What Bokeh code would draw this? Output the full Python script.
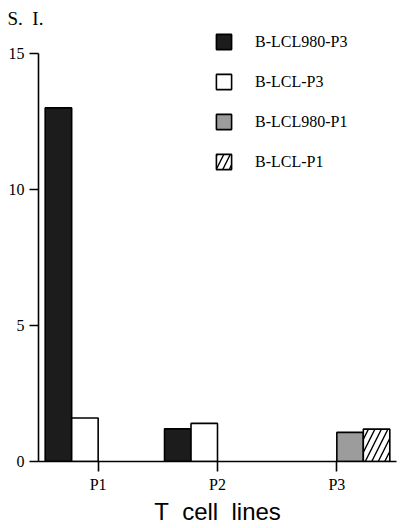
from bokeh.plotting import figure
from bokeh.models import FixedTicker, Legend, LegendItem, Range1d, ColumnDataSource
from bokeh.embed import file_html
from bokeh.resources import INLINE

# ---- data ----
categories = ["P1", "P2", "P3"]
series_names = ["B-LCL980-P3", "B-LCL-P3", "B-LCL980-P1", "B-LCL-P1"]
vals_980_p3 = [13.0, 1.2, None]
vals_lcl_p3 = [1.6, 1.4, None]
vals_980_p1 = [None, None, 1.07]
vals_lcl_p1 = [None, None, 1.19]
y_ticks = [0, 5, 10, 15]
y_label = "S.\u00a0\u00a0I."
x_label = "T\u00a0\u00a0cell\u00a0\u00a0lines"

series_values = [vals_980_p3, vals_lcl_p3, vals_980_p1, vals_lcl_p1]

# ---- styles ----
styles = [
    dict(fill_color="#1c1c1c", hatch_pattern=None),
    dict(fill_color="white", hatch_pattern=None),
    dict(fill_color="#9c9c9c", hatch_pattern=None),
    dict(fill_color="white", hatch_pattern="/"),
]
bar_w = 0.222
slot_offsets = [-1.5, -0.5, 0.5, 1.5]

serif = "Liberation Serif"
sans = "Liberation Sans"
ink = "black"

W, H = 400, 528
TOP, BOTTOM, LEFT, RIGHT = 30, 67, 38, 4
FRAME_H = H - TOP - BOTTOM
y_top = 15 * FRAME_H / 408.0

p = figure(width=W, height=H, output_backend="svg", toolbar_location=None,
           x_range=Range1d(0.5, 3.5), y_range=Range1d(0, y_top),
           min_border_left=LEFT, min_border_right=RIGHT,
           min_border_top=TOP, min_border_bottom=BOTTOM,
           title=y_label)
p.outline_line_color = None
p.xgrid.visible = False
p.ygrid.visible = False
p.background_fill_color = "white"

p.title.text_font = serif
p.title.text_font_size = "19px"
p.title.text_font_style = "normal"
p.title.text_color = ink
p.title.align = "left"
p.title.offset = -31
p.title.standoff = 4

items = []
for i, (name, vals) in enumerate(zip(series_names, series_values)):
    xs, tops = [], []
    for j, v in enumerate(vals):
        if v is None:
            continue
        xs.append(j + 1 + slot_offsets[i] * bar_w)
        tops.append(v)
    src = ColumnDataSource(dict(x=xs, top=tops))
    st = styles[i]
    kw = dict(x="x", top="top", bottom=0, width=bar_w, source=src,
              fill_color=st["fill_color"], line_color="black", line_width=1.6)
    if st["hatch_pattern"]:
        kw.update(hatch_pattern=st["hatch_pattern"], hatch_color="black",
                  hatch_scale=13, hatch_weight=1.4)
    r = p.vbar(**kw)
    items.append(LegendItem(label=name, renderers=[r]))

legend = Legend(items=items, location=(176, 290), glyph_width=19, glyph_height=19,
                label_height=19, spacing=21, padding=0, margin=0,
                border_line_color=None, background_fill_alpha=0, label_standoff=22,
                label_text_font=serif, label_text_font_size="16px",
                label_text_color=ink)
p.add_layout(legend)

# x axis
xa = p.xaxis[0]
xa.ticker = FixedTicker(ticks=[1, 2, 3])
xa.major_label_overrides = {1: categories[0], 2: categories[1], 3: categories[2]}
xa.minor_tick_line_color = None
xa.major_tick_in = 0
xa.major_tick_out = 10
xa.axis_line_width = 1.6
xa.axis_line_color = ink
xa.major_tick_line_width = 1.6
xa.major_tick_line_color = ink
xa.major_label_text_font = serif
xa.major_label_text_font_size = "16px"
xa.major_label_text_color = ink
xa.major_label_standoff = 4
xa.axis_label = x_label
xa.axis_label_text_font = sans
xa.axis_label_text_font_style = "normal"
xa.axis_label_text_font_size = "24px"
xa.axis_label_text_color = ink
xa.axis_label_standoff = 2

# y axis
ya = p.yaxis[0]
ya.ticker = FixedTicker(ticks=y_ticks)
ya.bounds = (0, 15)
ya.minor_tick_line_color = None
ya.major_tick_in = 0
ya.major_tick_out = 9
ya.axis_line_width = 1.6
ya.axis_line_color = ink
ya.major_tick_line_width = 1.6
ya.major_tick_line_color = ink
ya.major_label_text_font = serif
ya.major_label_text_font_size = "16px"
ya.major_label_text_color = ink
ya.major_label_standoff = 5

open("out.html", "w").write(file_html(p, INLINE))
